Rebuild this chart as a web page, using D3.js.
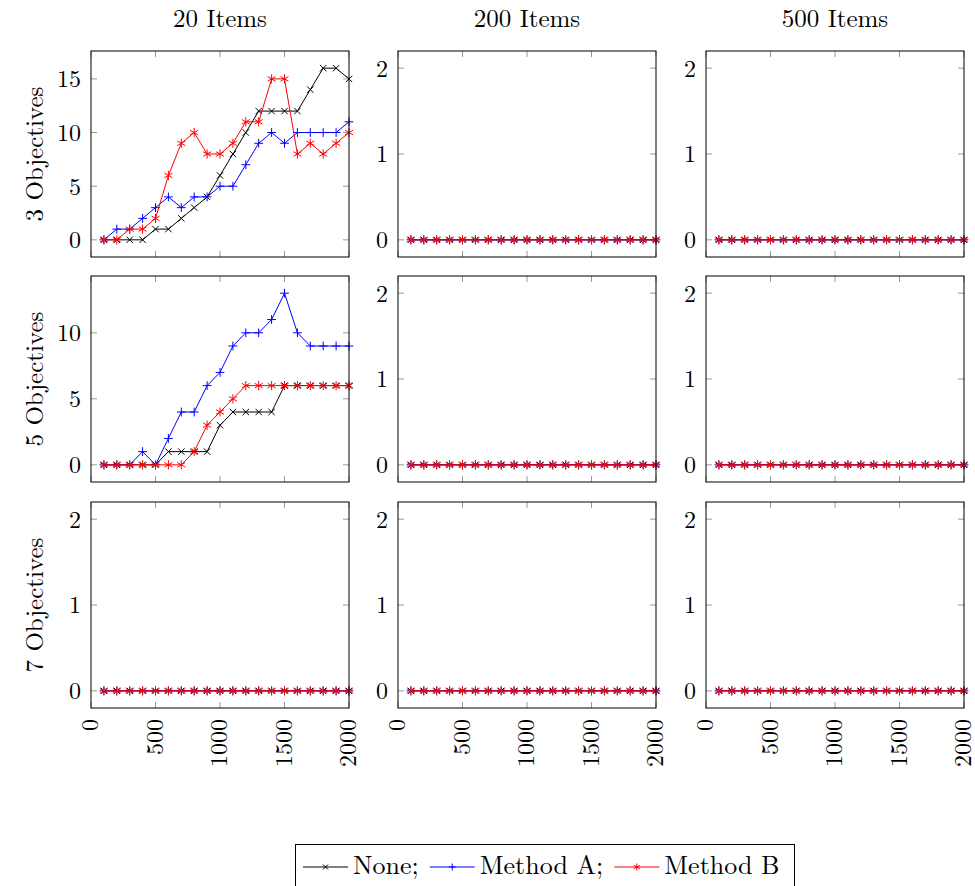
<!doctype html>
<html>
<head>
<meta charset="utf8">
<title>Objectives vs Items</title>
<script src="https://cdn.jsdelivr.net/npm/d3@7"></script>
<style>
  body { margin: 0; background: #fff; }
  svg text { font-family: "Latin Modern Roman", "CMU Serif", "Liberation Serif", serif; fill: #000; }
</style>
</head>
<body>
<div id="board"></div>
<script>
"use strict";
// x positions shared by every panel
const steps = [100, 200, 300, 400, 500, 600, 700, 800, 900, 1000,
               1100, 1200, 1300, 1400, 1500, 1600, 1700, 1800, 1900, 2000];
const colTitles = ["20 Items", "200 Items", "500 Items"];
const rowTitles = ["3 Objectives", "5 Objectives", "7 Objectives"];
const seriesNames = ["None", "Method A", "Method B"];
const xTicks = [0, 500, 1000, 1500, 2000];

// 3 objectives, 20 items
const none3_20 = [0, 0, 0, 0, 1, 1, 2, 3, 4, 6, 8, 10, 12, 12, 12, 12, 14, 16, 16, 15];
const methA3_20 = [0, 1, 1, 2, 3, 4, 3, 4, 4, 5, 5, 7, 9, 10, 9, 10, 10, 10, 10, 11];
const methB3_20 = [0, 0, 1, 1, 2, 6, 9, 10, 8, 8, 9, 11, 11, 15, 15, 8, 9, 8, 9, 10];
// 5 objectives, 20 items
const none5_20 = [0, 0, 0, 0, 0, 1, 1, 1, 1, 3, 4, 4, 4, 4, 6, 6, 6, 6, 6, 6];
const methA5_20 = [0, 0, 0, 1, 0, 2, 4, 4, 6, 7, 9, 10, 10, 11, 13, 10, 9, 9, 9, 9];
const methB5_20 = [0, 0, 0, 0, 0, 0, 0, 1, 3, 4, 5, 6, 6, 6, 6, 6, 6, 6, 6, 6];
// every other panel stays at zero
const zeros = [0, 0, 0, 0, 0, 0, 0, 0, 0, 0, 0, 0, 0, 0, 0, 0, 0, 0, 0, 0];

const panels = [
  [[none3_20, methA3_20, methB3_20], [zeros, zeros, zeros], [zeros, zeros, zeros]],
  [[none5_20, methA5_20, methB5_20], [zeros, zeros, zeros], [zeros, zeros, zeros]],
  [[zeros, zeros, zeros], [zeros, zeros, zeros], [zeros, zeros, zeros]]
];
const yDomains = [
  [[-1.6, 17.6], [-0.2, 2.2], [-0.2, 2.2]],
  [[-1.3, 14.3], [-0.2, 2.2], [-0.2, 2.2]],
  [[-0.2, 2.2], [-0.2, 2.2], [-0.2, 2.2]]
];
const yTicks = [
  [[0, 5, 10, 15], [0, 1, 2], [0, 1, 2]],
  [[0, 5, 10], [0, 1, 2], [0, 1, 2]],
  [[0, 1, 2], [0, 1, 2], [0, 1, 2]]
];

const colors = ["#000000", "#0000ff", "#ff0000"];
const W = 975, H = 886;
const colX = [91, 398, 706], rowY = [51, 276, 502];
const pw = 258, ph = 206;
const tickLen = 6;

const svg = d3.select("#board").append("svg")
  .attr("width", W).attr("height", H);

// marker paths
function markerPath(kind, s) {
  if (kind === 0) { // x
    return `M${-s},${-s}L${s},${s}M${-s},${s}L${s},${-s}`;
  }
  if (kind === 1) { // +
    return `M${-s},0L${s},0M0,${-s}L0,${s}`;
  }
  // asterisk, 6 arms
  let p = "";
  [90, 30, 150].forEach(a => {
    const r = a * Math.PI / 180;
    const dx = s * Math.cos(r), dy = s * Math.sin(r);
    p += `M${-dx},${-dy}L${dx},${dy}`;
  });
  return p;
}
const markerSize = [3.2, 4.4, 4.6];

for (let r = 0; r < 3; r++) {
  for (let c = 0; c < 3; c++) {
    const x0 = colX[c], y0 = rowY[r];
    const x = d3.scaleLinear().domain([0, 2000]).range([x0, x0 + pw]);
    const y = d3.scaleLinear().domain(yDomains[r][c]).range([y0 + ph, y0]);
    const g = svg.append("g");

    // ticks inside on all four sides
    const tg = g.append("g").attr("stroke", "#9a9a9a").attr("stroke-width", 1);
    xTicks.forEach(t => {
      tg.append("line").attr("x1", x(t)).attr("x2", x(t))
        .attr("y1", y0 + ph).attr("y2", y0 + ph - tickLen);
      tg.append("line").attr("x1", x(t)).attr("x2", x(t))
        .attr("y1", y0).attr("y2", y0 + tickLen);
    });
    yTicks[r][c].forEach(t => {
      tg.append("line").attr("x1", x0).attr("x2", x0 + tickLen)
        .attr("y1", y(t)).attr("y2", y(t));
      tg.append("line").attr("x1", x0 + pw).attr("x2", x0 + pw - tickLen)
        .attr("y1", y(t)).attr("y2", y(t));
    });

    // y tick labels
    const yAxis = d3.axisLeft(y).tickValues(yTicks[r][c]).tickFormat(d3.format("d"))
      .tickSize(0).tickPadding(10);
    const ya = g.append("g").attr("transform", `translate(${x0},0)`).call(yAxis);
    ya.select(".domain").remove();
    ya.selectAll("text").attr("font-size", 24).attr("font-family", null).attr("dy", "0.33em");

    // x tick labels on the bottom row only
    if (r === 2) {
      xTicks.forEach(t => {
        g.append("text")
          .attr("transform", `translate(${x(t) + 7},${y0 + ph + 11}) rotate(-90)`)
          .attr("text-anchor", "end")
          .attr("font-size", 24)
          .text(t);
      });
    }

    // series
    const clipId = `clip${r}${c}`;
    svg.append("clipPath").attr("id", clipId).append("rect")
      .attr("x", x0 - 6).attr("y", y0).attr("width", pw + 12).attr("height", ph);
    const dg = g.append("g").attr("clip-path", `url(#${clipId})`);
    panels[r][c].forEach((vals, k) => {
      const pts = steps.map((s, i) => [s, vals[i]]);
      dg.append("path").datum(pts)
        .attr("fill", "none").attr("stroke", colors[k]).attr("stroke-width", 1)
        .attr("d", d3.line().x(d => x(d[0])).y(d => y(d[1])));
      dg.selectAll(null).data(pts).enter().append("path")
        .attr("transform", d => `translate(${x(d[0])},${y(d[1])})`)
        .attr("d", markerPath(k, markerSize[k]))
        .attr("stroke", colors[k]).attr("stroke-width", 1).attr("fill", "none");
    });

    // frame
    g.append("rect").attr("x", x0).attr("y", y0).attr("width", pw).attr("height", ph)
      .attr("fill", "none").attr("stroke", "#000").attr("stroke-width", 1);
  }
}

// column titles
colTitles.forEach((t, c) => {
  svg.append("text").attr("x", colX[c] + pw / 2).attr("y", 27)
    .attr("text-anchor", "middle").attr("font-size", 25).text(t);
});
// row titles
rowTitles.forEach((t, r) => {
  svg.append("text")
    .attr("transform", `translate(43,${rowY[r] + ph / 2}) rotate(-90)`)
    .attr("text-anchor", "middle").attr("font-size", 25).text(t);
});

// legend
const lg = svg.append("g");
const legendBox = lg.append("rect").attr("x", 295.5).attr("y", 844.5)
  .attr("height", 44).attr("fill", "#fff").attr("stroke", "#000").attr("stroke-width", 1);
let lx = 303;
const ly = 867;
seriesNames.forEach((name, k) => {
  lg.append("line").attr("x1", lx).attr("x2", lx + 45).attr("y1", ly).attr("y2", ly)
    .attr("stroke", colors[k]).attr("stroke-width", 1);
  lg.append("path").attr("transform", `translate(${lx + 22.5},${ly})`)
    .attr("d", markerPath(k, k === 0 ? 2.5 : 3.5))
    .attr("stroke", colors[k]).attr("fill", "none");
  const label = name + (k < seriesNames.length - 1 ? ";" : "");
  const txt = lg.append("text").attr("x", lx + 50).attr("y", ly + 7)
    .attr("font-size", 26).text(label);
  lx += 50 + txt.node().getComputedTextLength() + 11;
});
legendBox.attr("width", lx + 4 - 295.5);
</script>
</body>
</html>
